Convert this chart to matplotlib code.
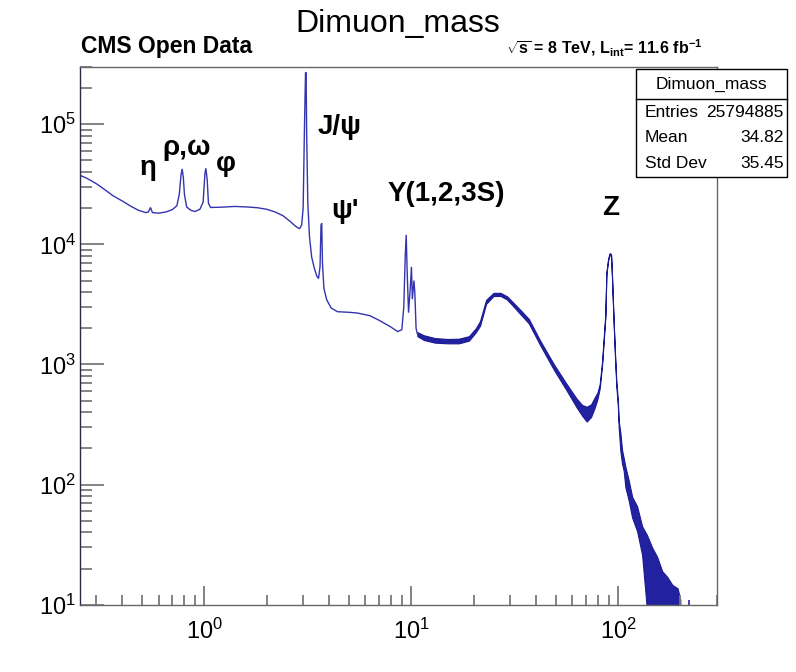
import matplotlib
matplotlib.use("Agg")
import matplotlib.pyplot as plt
from matplotlib.patches import Rectangle
from matplotlib.lines import Line2D
from matplotlib.ticker import LogLocator, LogFormatterSciNotation, NullFormatter

plt.rcParams['font.family'] = ['Liberation Sans', 'DejaVu Sans']
plt.rcParams['mathtext.fontset'] = 'custom'
plt.rcParams['mathtext.rm'] = 'Liberation Sans'
plt.rcParams['mathtext.it'] = 'Liberation Sans:italic'
plt.rcParams['mathtext.bf'] = 'Liberation Sans:bold'

# ---------------- data ----------------
low_mass = [0.25, 0.27, 0.30, 0.33, 0.36, 0.40, 0.44, 0.48, 0.52, 0.535, 0.548, 0.56,
            0.60, 0.65, 0.70, 0.735, 0.755, 0.770, 0.780, 0.790, 0.800, 0.82, 0.86,
            0.90, 0.95, 0.985, 1.005, 1.015, 1.03, 1.045, 1.07, 1.2, 1.4, 1.6, 1.8,
            2.0, 2.2, 2.4, 2.6, 2.75, 2.88, 2.95, 3.00, 3.04, 3.08, 3.10, 3.12, 3.16,
            3.22, 3.30, 3.40, 3.50, 3.56, 3.62, 3.66, 3.69, 3.72, 3.78, 3.9, 4.1,
            4.4, 5.0, 5.5, 6.3, 7.0, 7.9, 8.6, 9.0, 9.2, 9.35, 9.45, 9.55, 9.70,
            9.90, 10.02, 10.12, 10.30, 10.40, 10.55, 10.7]
low_counts = [3.76e4, 3.55e4, 3.2e4, 2.85e4, 2.55e4, 2.3e4, 2.08e4, 1.92e4, 1.84e4,
              1.86e4, 2.03e4, 1.84e4, 1.82e4, 1.86e4, 1.95e4, 2.1e4, 2.6e4, 3.8e4,
              4.25e4, 3.6e4, 2.6e4, 2.05e4, 1.92e4, 1.88e4, 1.96e4, 2.25e4, 3.9e4,
              4.3e4, 3.5e4, 2.2e4, 2.03e4, 2.04e4, 2.07e4, 2.05e4, 2.02e4, 1.96e4,
              1.86e4, 1.73e4, 1.55e4, 1.42e4, 1.35e4, 1.45e4, 2.0e4, 8.2e4, 2.7e5,
              2.7e5, 8.2e4, 2.2e4, 1.15e4, 7.8e3, 6.3e3, 5.4e3, 5.2e3, 6.5e3, 1.45e4,
              1.5e4, 7.0e3, 4.3e3, 3.45e3, 2.95e3, 2.75e3, 2.72e3, 2.68e3, 2.55e3,
              2.33e3, 2.07e3, 1.88e3, 1.95e3, 3.0e3, 8.0e3, 1.2e4, 6.0e3, 2.7e3,
              4.5e3, 6.5e3, 3.5e3, 5.0e3, 4.0e3, 2.0e3, 1.8e3]

band_mass = [10.7, 11.5, 13, 15, 17, 19, 20.5, 21.5, 23, 25, 27, 29, 31, 34, 37, 42,
             49, 56, 63, 67, 70.5, 74, 77, 79.5, 81.5, 83.7, 86.8, 87.8, 89.5, 91.0,
             92.5, 93.5, 94.6, 95.7, 96.7, 98.1, 99.8, 100.7, 102.6, 104.5, 106.5,
             108.5, 112.5, 117, 123.6, 130.7, 138, 146, 154.5, 163.5, 173, 183,
             194, 200]
band_low = [1.72e3, 1.6e3, 1.52e3, 1.5e3, 1.5e3, 1.58e3, 1.85e3, 2.1e3, 3.2e3, 3.72e3,
            3.72e3, 3.48e3, 3.08e3, 2.58e3, 2.2e3, 1.45e3, 900, 620, 440, 375, 335,
            365, 435, 515, 630, 990, 2.45e3, 5.6e3, 7.3e3, 8.2e3, 8.0e3, 5.2e3,
            2.95e3, 1.75e3, 1.12e3, 660, 445, 300, 190, 150, 130, 95, 74, 53, 41,
            26, 9, 9, 9, 9, 9, 9, 9, 9]
band_high = [1.86e3, 1.75e3, 1.66e3, 1.63e3, 1.64e3, 1.72e3, 2.0e3, 2.3e3, 3.45e3, 3.95e3,
             3.95e3, 3.7e3, 3.3e3, 2.8e3, 2.4e3, 1.58e3, 1.0e3, 700, 520, 460, 445,
             465, 530, 585, 685, 1.06e3, 2.65e3, 5.85e3, 7.6e3, 8.45e3, 8.3e3, 5.5e3,
             3.1e3, 1.85e3, 1.22e3, 720, 500, 340, 270, 195, 166, 141, 109, 79, 66,
             45, 38, 30, 25, 19, 17, 14.6, 13.7, 11]

spike_mass = [220.0]
spike_count = [10.9]

x_tick_values = [1, 10, 100]
y_tick_values = [10, 100, 1000, 10000, 100000]
peak_labels = ["η", "ρ,ω", "φ", "J/ψ", "ψ'", "Υ(1,2,3S)", "Z"]

stats_title = "Dimuon_mass"
stats_names = ["Entries", "Mean", "Std Dev"]
stats_values = ["25794885", "34.82", "35.45"]

# ---------------- figure ----------------
fig = plt.figure(figsize=(7.96, 6.72), dpi=100)
ax = fig.add_axes([0.1005, 0.1002, 0.7999, 0.8001])
ax.set_xscale('log')
ax.set_yscale('log')
ax.set_xlim(0.25, 300)
ax.set_ylim(10, 3.0e5)

line_col = '#3434b0'
band_col = '#2222a0'
ax.plot(low_mass, low_counts, color=line_col, lw=1.0, solid_joinstyle='miter')
ax.fill_between(band_mass, band_low, band_high, facecolor=band_col,
                edgecolor='#1a1a96', lw=0.8)
ax.vlines(spike_mass, 9, spike_count, color=band_col, lw=1.2)

# axes style (ROOT-like)
for side in ['top', 'right', 'bottom']:
    ax.spines[side].set_color('#666666')
    ax.spines[side].set_linewidth(1.0)
ax.spines['left'].set_color('#2a2a48')
ax.spines['left'].set_linewidth(1.0)

ax.xaxis.set_major_locator(LogLocator(base=10, subs=(1.0,)))
ax.xaxis.set_minor_locator(LogLocator(base=10, subs=tuple(range(2, 10))))
ax.yaxis.set_major_locator(LogLocator(base=10, subs=(1.0,)))
ax.yaxis.set_minor_locator(LogLocator(base=10, subs=tuple(range(2, 10))))
ax.xaxis.set_minor_formatter(NullFormatter())
ax.yaxis.set_minor_formatter(NullFormatter())
ax.set_xticks(x_tick_values)
ax.set_yticks(y_tick_values)
ax.xaxis.set_major_formatter(LogFormatterSciNotation())
ax.yaxis.set_major_formatter(LogFormatterSciNotation())

ax.tick_params(axis='both', which='both', direction='in', color='#7a7a7a',
               width=1.3, top=False, right=False, labelsize=17)
ax.tick_params(axis='y', which='major', length=17, pad=3)
ax.tick_params(axis='y', which='minor', length=8.6)
ax.tick_params(axis='x', which='major', length=14, pad=10)
ax.tick_params(axis='x', which='minor', length=7)

# peak labels (positions in axes fraction)
lab_pos = [(0.0938, 0.799), (0.130, 0.837), (0.2136, 0.806), (0.374, 0.875),
           (0.395, 0.719), (0.4837, 0.7507), (0.8194, 0.7245)]
for txt, (xa, ya) in zip(peak_labels, lab_pos):
    ax.text(xa, ya, txt, transform=ax.transAxes, fontsize=20, fontweight='bold',
            ha='left', va='baseline', color='black')

# titles
fig.text(0.5, 0.952, "Dimuon_mass", ha='center', va='baseline', fontsize=23)
fig.text(0.1018, 0.9205, "CMS Open Data", ha='left', va='baseline', fontsize=16.5,
         fontweight='bold')
fig.text(0.883, 0.9195,
         r"$\mathbf{\sqrt{s}}$ = 8 TeV, L$_{\mathbf{int}}$= 11.6 fb$^{\mathbf{-1}}$",
         ha='right', va='baseline', fontsize=11.5, fontweight='bold')

# stats box
bx0, bx1 = 0.799, 0.9887
by0, by1 = 0.7366, 0.8973
fig.add_artist(Rectangle((bx0, by0), bx1 - bx0, by1 - by0, transform=fig.transFigure,
                         facecolor='white', edgecolor='black', lw=1.0, zorder=5))
fig.add_artist(Line2D([bx0, bx1], [0.8527, 0.8527], transform=fig.transFigure,
                      color='black', lw=1.0, zorder=6))
fig.text((bx0 + bx1) / 2, 0.875, stats_title, ha='center', va='center', fontsize=12.5,
         zorder=7)
row_y = [0.8326, 0.7954, 0.7574]
for name, val, yy in zip(stats_names, stats_values, row_y):
    fig.text(0.8103, yy, name, ha='left', va='center', fontsize=12.5, zorder=7)
    fig.text(0.9849, yy, val, ha='right', va='center', fontsize=12.5, zorder=7)

fig.savefig("out.png", dpi=100)
